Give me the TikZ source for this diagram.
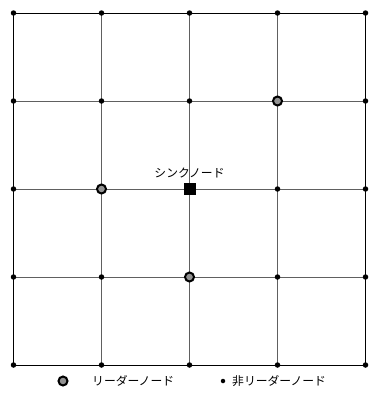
\documentclass[tikz,border=0pt]{standalone}
\usepackage{fontspec}
\setmainfont{Noto Sans CJK JP}
\begin{document}
\begin{tikzpicture}[x=1pt,y=-1pt,
  gridline/.style={draw=gray!75!black, line width=0.9pt},
  outline/.style={draw=black, line width=1pt},
  dotnode/.style={circle, fill=black, inner sep=0pt, minimum size=5.5pt},
  leader/.style={circle, fill=gray!85, draw=black, line width=2pt, inner sep=0pt, minimum size=9pt},
  sink/.style={rectangle, fill=black, inner sep=0pt, minimum size=12pt},
  lbl/.style={font=\fontsize{11.8}{13}\selectfont, inner sep=0pt}]
\useasboundingbox (0,0) rectangle (369,394);
\fill[white] (0,0) rectangle (369,394);
\foreach \i in {0,...,4}{
  \foreach \j in {0,...,4}{
    \coordinate (p\i\j) at ({13.5+88*\i},{13+88*\j});
  }
}
\foreach \i in {1,2,3}{
  \draw[gridline] (p\i0) -- (p\i4);
  \draw[gridline] (p0\i) -- (p4\i);
}
\draw[outline] (p00) -- (p40) -- (p44) -- (p04) -- cycle;
\foreach \i in {0,...,4}{
  \foreach \j in {0,...,4}{
    \node[dotnode] (n\i\j) at (p\i\j) {};
  }
}
\node[leader] (L1) at (p12) {};
\node[leader] (L2) at (p23) {};
\node[leader] (L3) at (p31) {};
\node[sink] (S) at (p22) {};
\node[lbl, anchor=south] (St) at ([yshift=5pt]S.north) {シンクノード};
% legend
\node[leader] (LL) at (63,381) {};
\node[lbl, anchor=west] (LLt) at (92,381) {リーダーノード};
\node[dotnode, minimum size=4.5pt] (LN) at (223,381) {};
\node[lbl, anchor=west] (LNt) at (232,381) {非リーダーノード};
\end{tikzpicture}
\end{document}
